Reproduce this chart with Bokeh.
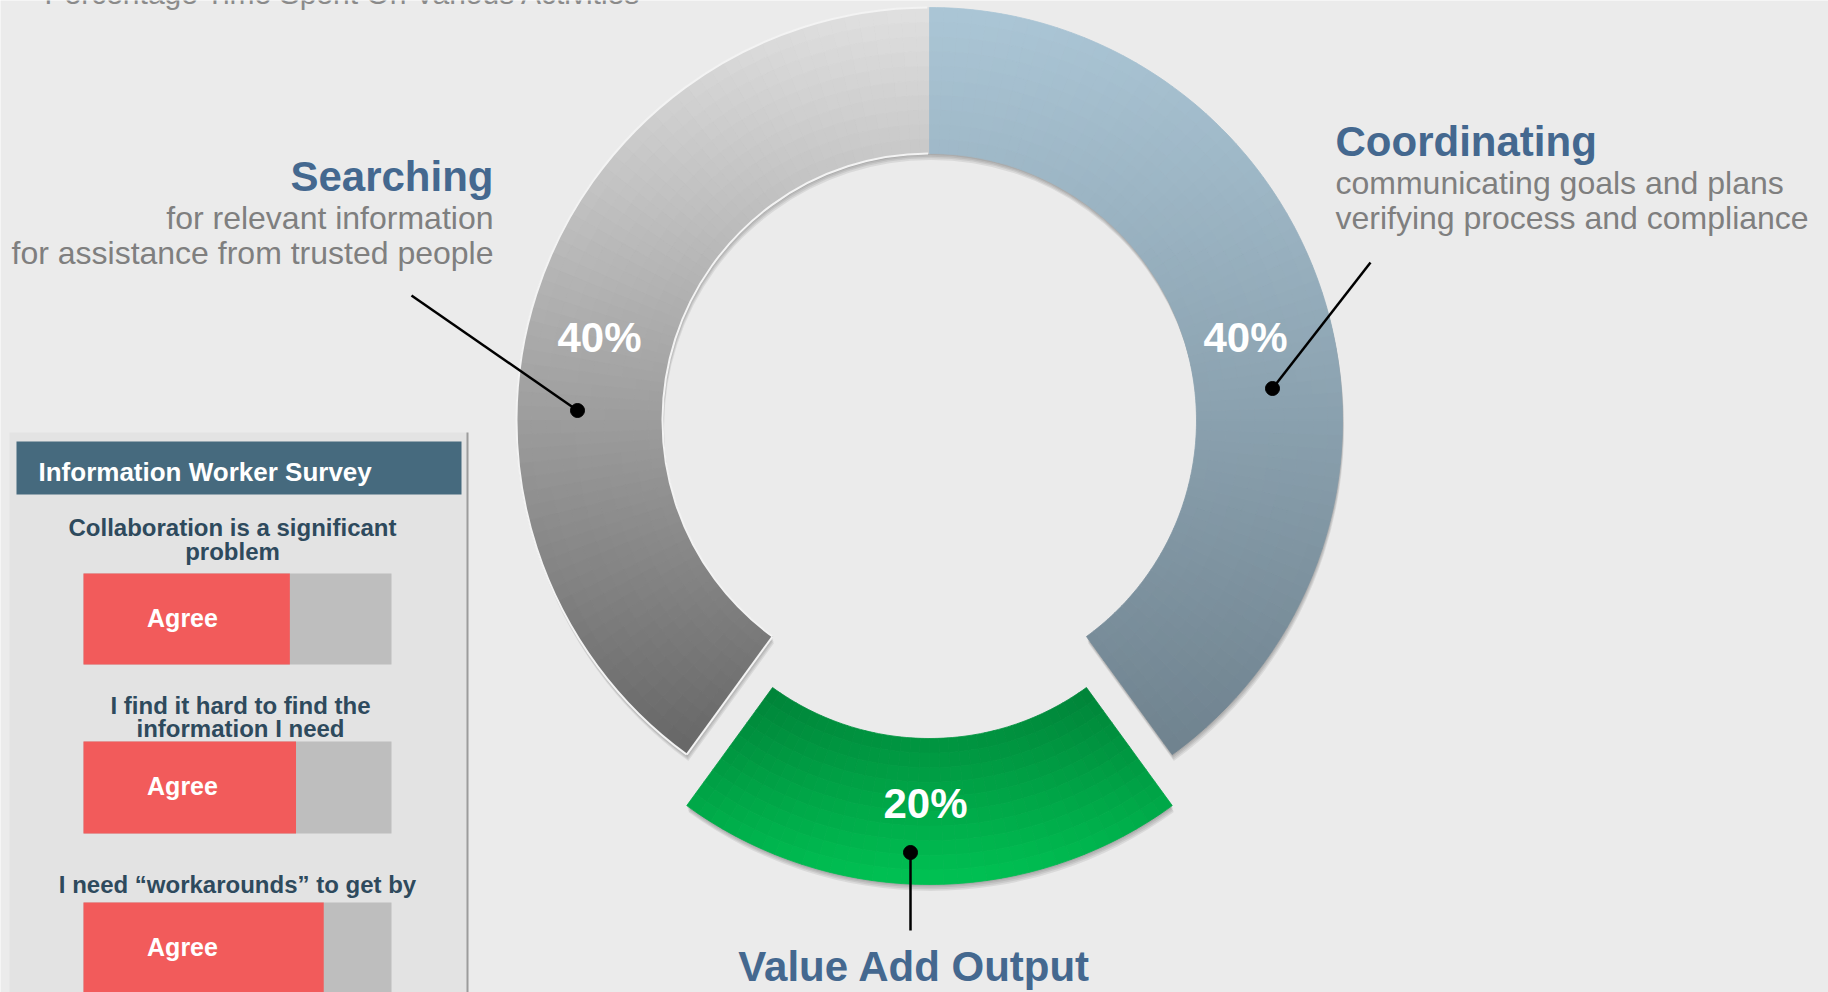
import numpy as np
from bokeh.plotting import figure
from bokeh.models import Range1d, ColumnDataSource
from bokeh.core.properties import value
from bokeh.embed import file_html
from bokeh.resources import INLINE

# ---------------- data ----------------
title = "Percentage Time Spent On Various Activities"
activities = ["Searching", "Value Add Output", "Coordinating"]
shares = [40, 20, 40]
share_labels = ["40%", "20%", "40%"]
searching_notes = ["for relevant information", "for assistance from trusted people"]
coordinating_notes = ["communicating goals and plans", "verifying process and compliance"]
survey_title = "Information Worker Survey"
survey_questions = [["Collaboration is a significant", "problem"],
                    ["I find it hard to find the", "information I need"],
                    ["I need \u201cworkarounds\u201d to get by"]]
survey_agree = [67, 69, 78]
survey_label = "Agree"

# ---------------- style / layout ----------------
W, H = 1828, 992
FONT = value("Liberation Sans")
slice_top = ["#e0e0e0", "#008238", "#abc6d6"]
slice_bottom = ["#666666", "#00c253", "#6f828e"]
explode = [0, 51, 0]
BG = "#ebebeb"
BLUE_TXT = "#44688f"
GRAY_TXT = "#7f7f7f"
BASE_FIX = 0.385  # rendered baseline sits this many em below the anchor


def Y(y):
    return H - y


def BY(y, fs):
    # anchor so that the text baseline lands on pixel row y (top-down)
    return H - (y - BASE_FIX * fs)


def hex2rgb(h):
    return np.array([int(h[i:i + 2], 16) for i in (1, 3, 5)], float)


def mix(c1, c2, t):
    t = min(max(t, 0.0), 1.0)
    c = hex2rgb(c1) * (1 - t) + hex2rgb(c2) * t
    return "#%02x%02x%02x" % tuple(int(round(v)) for v in c)


p = figure(width=W, height=H, x_range=Range1d(0, W), y_range=Range1d(0, H),
           output_backend="svg", toolbar_location=None, min_border=0,
           x_axis_location=None, y_axis_location=None,
           background_fill_color=BG, border_fill_color=BG, outline_line_color=None)
p.grid.visible = False

# ---------------- donut ----------------
CX, CY = 929, Y(420)
R_IN, R_OUT = 267, 413

cum = np.cumsum([0] + shares)
starts = 90 + 360.0 * cum[:-1] / 100.0
ends = 90 + 360.0 * cum[1:] / 100.0

centers = []
for i in range(len(shares)):
    mid = np.radians((starts[i] + ends[i]) / 2)
    centers.append((CX + explode[i] * np.cos(mid), CY + explode[i] * np.sin(mid)))

# soft drop shadow
for i in range(len(shares)):
    cx, cy = centers[i]
    for k in range(1, 5):
        p.annular_wedge(x=cx + 0.4 * k, y=cy - 1.6 * k, inner_radius=R_IN, outer_radius=R_OUT,
                        start_angle=np.radians(starts[i]), end_angle=np.radians(ends[i]),
                        fill_color="black", fill_alpha=0.075, line_color=None)

# gradient-filled slices (vertical gradient built from small annular wedges)
for i in range(len(shares)):
    cx, cy = centers[i]
    a0, a1 = starts[i], ends[i]
    angs = np.radians(np.linspace(a0, a1, 500))
    ys = np.concatenate([cy + R_IN * np.sin(angs), cy + R_OUT * np.sin(angs)])
    ymin, ymax = ys.min(), ys.max()
    n_ang = int(round((a1 - a0) / 2.0))
    n_rad = 10
    ea = np.linspace(a0, a1, n_ang + 1)
    er = np.linspace(R_IN, R_OUT, n_rad + 1)
    d = dict(x=[], y=[], ir=[], orr=[], sa=[], en=[], c=[])
    for a in range(n_ang):
        am = np.radians((ea[a] + ea[a + 1]) / 2)
        for r in range(n_rad):
            rm = (er[r] + er[r + 1]) / 2
            yc = cy + rm * np.sin(am)
            t = (ymax - yc) / (ymax - ymin)
            d["x"].append(cx)
            d["y"].append(cy)
            d["ir"].append(er[r])
            d["orr"].append(er[r + 1])
            d["sa"].append(np.radians(ea[a]))
            d["en"].append(np.radians(ea[a + 1]))
            d["c"].append(mix(slice_top[i], slice_bottom[i], t))
    src = ColumnDataSource(d)
    p.annular_wedge(x="x", y="y", inner_radius="ir", outer_radius="orr",
                    start_angle="sa", end_angle="en", fill_color="c",
                    line_color="c", line_width=0.8, source=src)

# light outline on the Searching slice
cx, cy = centers[0]
p.arc(x=cx, y=cy, radius=R_OUT, start_angle=np.radians(starts[0] + 0.3), end_angle=np.radians(ends[0]),
      line_color="#f3f3f3", line_width=2)
p.arc(x=cx, y=cy, radius=R_IN, start_angle=np.radians(starts[0] + 0.3), end_angle=np.radians(ends[0]),
      line_color="#f3f3f3", line_width=2)
ea = np.radians(ends[0])
p.segment(x0=cx + R_IN * np.cos(ea), y0=cy + R_IN * np.sin(ea),
          x1=cx + R_OUT * np.cos(ea), y1=cy + R_OUT * np.sin(ea),
          line_color="#f3f3f3", line_width=2)

# percentage labels
p.text(x=[599, 925, 1245], y=[BY(353, 42), BY(819, 42), BY(353, 42)], text=share_labels,
       text_font=FONT, text_font_size="42px", text_font_style="bold",
       text_color="white", text_align="center", text_baseline="alphabetic")

# leader lines
p.segment(x0=[411, 1370, 910], y0=[Y(295), Y(262), Y(852)],
          x1=[577, 1272, 910], y1=[Y(410), Y(388), Y(930)],
          line_color="black", line_width=2.5)
p.scatter(x=[577, 1272, 910], y=[Y(410), Y(388), Y(852)], size=14,
          marker="circle", fill_color="black", line_color="black")

# category labels
p.text(x=[493], y=[BY(192, 42)], text=[activities[0]], text_font=FONT, text_font_size="42px",
       text_font_style="bold", text_color=BLUE_TXT, text_align="right", text_baseline="alphabetic")
p.text(x=[493, 493], y=[BY(230, 32), BY(265, 32)], text=searching_notes, text_font=FONT,
       text_font_size="32px", text_color=GRAY_TXT, text_align="right", text_baseline="alphabetic")
p.text(x=[1335], y=[BY(157, 42)], text=[activities[2]], text_font=FONT, text_font_size="42px",
       text_font_style="bold", text_color=BLUE_TXT, text_align="left", text_baseline="alphabetic")
p.text(x=[1335, 1335], y=[BY(195, 32), BY(230, 32)], text=coordinating_notes, text_font=FONT,
       text_font_size="32px", text_color=GRAY_TXT, text_align="left", text_baseline="alphabetic")
p.text(x=[914], y=[BY(982, 42)], text=[activities[1]], text_font=FONT, text_font_size="42px",
       text_font_style="bold", text_color=BLUE_TXT, text_align="center", text_baseline="alphabetic")

# title (cut off at the top of the page)
p.text(x=[44], y=[BY(5, 30)], text=[title], text_font=FONT, text_font_size="30px",
       text_color="#8a8a8a", text_align="left", text_baseline="alphabetic")

# ---------------- survey panel ----------------
p.quad(left=9, right=467, top=Y(432), bottom=Y(1010), fill_color="#e3e3e3", line_color=None)
p.segment(x0=467, y0=Y(432), x1=467, y1=Y(1010), line_color="#9c9c9c", line_width=2)
p.quad(left=16, right=461, top=Y(441), bottom=Y(494), fill_color="#466a7e", line_color=None)
p.text(x=[38], y=[BY(482, 26)], text=[survey_title], text_font=FONT, text_font_size="26px",
       text_font_style="bold", text_color="white", text_align="left", text_baseline="alphabetic")

q_x = [232, 240, 237]
q_base = [[536, 560], [714, 737], [893]]
qx, qy, qt = [], [], []
for k, lines in enumerate(survey_questions):
    for j, line in enumerate(lines):
        qx.append(q_x[k])
        qy.append(BY(q_base[k][j], 24))
        qt.append(line)
p.text(x=qx, y=qy, text=qt, text_font=FONT, text_font_size="24px", text_font_style="bold",
       text_color="#2e4a5d", text_align="center", text_baseline="alphabetic")

BAR_L, BAR_W = 83, 308
bar_mid = [618.5, 787, 947.5]
bar_centers = [Y(m) for m in bar_mid]
bar_h = [91, 92, 91]
p.hbar(y=bar_centers, left=BAR_L, right=BAR_L + BAR_W, height=bar_h,
       fill_color="#bebebe", line_color=None)
p.hbar(y=bar_centers, left=BAR_L, right=[BAR_L + BAR_W * v / 100.0 for v in survey_agree],
       height=bar_h, fill_color="#f25b5b", line_color=None)
p.text(x=[182] * 3, y=[BY(m + 8.5, 25) for m in bar_mid], text=[survey_label] * 3,
       text_font=FONT, text_font_size="25px", text_font_style="bold",
       text_color="white", text_align="center", text_baseline="alphabetic")

open("out.html", "w").write(file_html(p, INLINE))
